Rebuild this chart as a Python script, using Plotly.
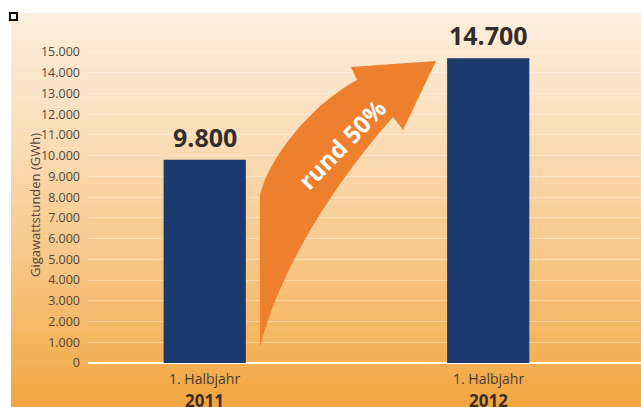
import plotly.graph_objects as go

# Data
periods = ["1. Halbjahr 2011", "1. Halbjahr 2012"]
period_lines = [("1. Halbjahr", "2011"), ("1. Halbjahr", "2012")]
gwh = [9800, 14700]
y_ticks = list(range(0, 15001, 1000))
growth_label = "rund 50%"
y_title = "Gigawattstunden (GWh)"

W, H = 641, 407


def px(x):
    return x / W


def py(y):
    return 1 - y / H


def mix(c1, c2, t):
    return tuple(round(a + (b - a) * t) for a, b in zip(c1, c2))


# vertical cream-to-orange background
stops = [(0.0, (252, 239, 222)), (0.3, (250, 222, 186)), (0.6, (247, 201, 140)),
         (0.85, (244, 180, 92)), (1.0, (242, 164, 62))]
shapes = []
top, bottom, left = 13, 407, 11
n = 90
for i in range(n):
    t = (i + 0.5) / n
    for (t0, c0), (t1, c1) in zip(stops, stops[1:]):
        if t0 <= t <= t1:
            c = mix(c0, c1, (t - t0) / (t1 - t0))
            break
    y0 = top + (bottom - top) * i / n
    y1 = top + (bottom - top) * (i + 1) / n + 0.6
    shapes.append(dict(type="rect", xref="paper", yref="paper", layer="below",
                       x0=px(left), x1=1, y0=py(y1), y1=py(y0),
                       fillcolor="rgb(%d,%d,%d)" % c, line=dict(width=0)))

# small corner marker
shapes.append(dict(type="rect", xref="paper", yref="paper",
                   x0=px(10), x1=px(17), y0=py(20), y1=py(13),
                   fillcolor="white", line=dict(color="black", width=2)))

# curved growth arrow
pts = "M {a} L {b} C {c} {d} {e} L {f} L {g} L {h} L {i} C {j} {k} {l} Z"
def P(x, y):
    return "%.5f,%.5f" % (px(x), py(y))
arrow_path = pts.format(
    a=P(260, 347), b=P(260, 195), c=P(268, 160), d=P(310, 105), e=P(357, 80),
    f=P(351, 67), g=P(436, 61), h=P(403, 130), i=P(393, 117),
    j=P(355, 160), k=P(285, 250), l=P(260, 347))
shapes.append(dict(type="path", xref="paper", yref="paper", path=arrow_path,
                   fillcolor="#ee7f2d", line=dict(width=0)))

fig = go.Figure()
fig.add_trace(go.Bar(
    x=periods, y=gwh, width=0.29, marker=dict(color="#1c3a6d", line=dict(width=0)),
    hoverinfo="skip"))

annotations = []
for p, v in zip(periods, gwh):
    annotations.append(dict(x=p, y=v, xref="x", yref="y",
                            text="<b>%s</b>" % format(v, ",").replace(",", "."),
                            showarrow=False, yanchor="middle", yshift=23,
                            font=dict(family="Open Sans", size=25, color="#352d2a")))
# two-line period labels beneath each bar
for p, (half, year) in zip(periods, period_lines):
    annotations.append(dict(x=p, y=py(378), xref="x", yref="paper", text=half,
                            showarrow=False, yanchor="middle",
                            font=dict(family="Open Sans", size=14, color="#4a3b30")))
    annotations.append(dict(x=p, y=py(400), xref="x", yref="paper",
                            text="<b>%s</b>" % year, showarrow=False, yanchor="middle",
                            font=dict(family="Open Sans", size=17, color="#3a2e28")))
annotations.append(dict(x=px(341), y=py(144), xref="paper", yref="paper",
                        text="<b>%s</b>" % growth_label, showarrow=False, textangle=-46,
                        font=dict(family="Open Sans", size=24, color="white")))
annotations.append(dict(x=px(24), y=py(205), xref="paper", yref="paper",
                        text=y_title, showarrow=False, textangle=-90,
                        font=dict(family="Open Sans", size=13, color="#54463a")))

fig.update_layout(
    width=W, height=H,
    margin=dict(l=0, r=0, t=0, b=0, autoexpand=False),
    paper_bgcolor="white", plot_bgcolor="rgba(0,0,0,0)",
    separators=",.",
    showlegend=False,
    shapes=shapes,
    annotations=annotations,
    xaxis=dict(domain=[px(88), 1], range=[-0.4117, 1.5389], automargin=False,
               showticklabels=False,
               showgrid=False, showline=False, zeroline=False, ticks=""),
    yaxis=dict(domain=[py(363), py(13)], range=[0, 16881], automargin=False,
               tickmode="array", tickvals=y_ticks, tickformat=",d",
               showgrid=True, gridcolor="rgba(255,255,255,0.35)", gridwidth=1,
               zeroline=True, zerolinecolor="rgba(255,255,255,0.95)", zerolinewidth=2,
               showline=False, ticks="", ticklabelstandoff=7,
               tickfont=dict(family="Open Sans", size=12.5, color="#54463a")),
)

fig.write_html("out.html")
